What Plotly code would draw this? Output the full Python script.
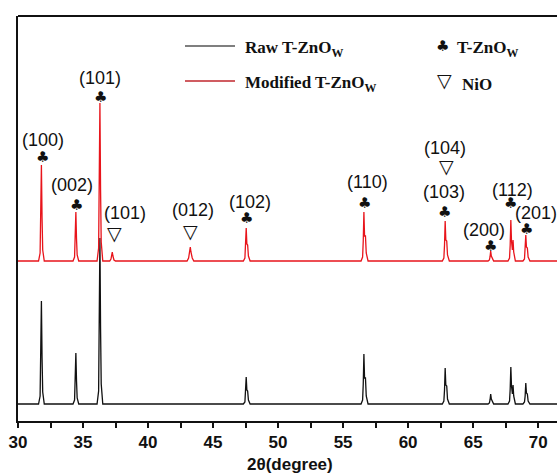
import plotly.graph_objects as go

# ---------------- data ----------------
raw_2theta = [30.0,
    31.58, 31.70, 31.75, 31.80, 31.85, 31.90, 32.02,
    34.23, 34.35, 34.40, 34.45, 34.50, 34.55, 34.67,
    36.08, 36.20, 36.25, 36.30, 36.35, 36.40, 36.52,
    47.33, 47.45, 47.50, 47.55, 47.60, 47.66, 47.72, 47.85,
    56.38, 56.50, 56.55, 56.60, 56.65, 56.72, 56.78, 56.92,
    62.63, 62.75, 62.80, 62.85, 62.90, 62.97, 63.03, 63.17,
    66.15, 66.25, 66.30, 66.35, 66.40, 66.48, 66.58,
    67.68, 67.80, 67.85, 67.90, 67.95, 68.02, 68.07, 68.12, 68.25,
    68.83, 68.95, 69.00, 69.05, 69.10, 69.17, 69.23, 69.37,
    72.0]
raw_intensity = [0,
    0, 8, 41, 103, 46, 12, 0,
    0, 4, 20, 51, 23, 6, 0,
    0, 13, 66, 166, 75, 20, 0,
    0, 2, 11, 27, 14, 13, 4, 0,
    0, 4, 20, 50, 26, 26, 8, 0,
    0, 3, 14, 36, 19, 18, 5, 0,
    0, 1, 4, 10, 5, 3, 0,
    0, 3, 15, 37, 18, 10, 19, 8, 0,
    0, 2, 8, 21, 11, 10, 3, 0,
    0]

mod_2theta = [30.0,
    31.58, 31.70, 31.75, 31.80, 31.85, 31.90, 32.02,
    34.23, 34.35, 34.40, 34.45, 34.50, 34.55, 34.67,
    36.08, 36.20, 36.25, 36.30, 36.35, 36.40, 36.52,
    37.05, 37.15, 37.20, 37.25, 37.30, 37.38, 37.50,
    43.00, 43.12, 43.20, 43.25, 43.30, 43.40, 43.52,
    47.33, 47.45, 47.50, 47.55, 47.60, 47.66, 47.72, 47.85,
    56.38, 56.50, 56.55, 56.60, 56.65, 56.72, 56.78, 56.92,
    62.63, 62.75, 62.80, 62.85, 62.90, 62.97, 63.03, 63.17,
    66.15, 66.25, 66.30, 66.35, 66.40, 66.48, 66.58,
    67.68, 67.80, 67.85, 67.90, 67.95, 68.02, 68.07, 68.12, 68.25,
    68.83, 68.95, 69.00, 69.05, 69.10, 69.17, 69.23, 69.37,
    72.0]
mod_intensity = [0,
    0, 8, 38, 96, 43, 11, 0,
    0, 4, 20, 49, 22, 6, 0,
    0, 13, 63, 158, 71, 19, 0,
    0, 2, 5, 9, 5, 1, 0,
    0, 3, 9, 14, 9, 3, 0,
    0, 3, 13, 33, 17, 16, 5, 0,
    0, 4, 20, 49, 25, 25, 8, 0,
    0, 3, 16, 40, 21, 20, 6, 0,
    0, 1, 4, 10, 5, 3, 0,
    0, 3, 16, 41, 20, 11, 21, 9, 0,
    0, 2, 10, 26, 14, 13, 4, 0,
    0]
mod_offset = 143

# peak labels: (text, x_pixel, y_pixel)
hkl_labels = [("(100)", 43, 140), ("(002)", 72, 185), ("(101)", 100, 78),
              ("(101)", 125, 213), ("(012)", 193, 210), ("(102)", 250, 202),
              ("(110)", 367, 182), ("(104)", 445, 148), ("(103)", 444, 192),
              ("(112)", 512, 190), ("(201)", 536, 213), ("(200)", 484, 230)]
club_marks = [(42, 157), (76, 205), (100, 97), (246, 218), (364, 203),
              (444, 212), (510, 203), (526, 229), (490, 246)]
nio_marks = [(114, 233), (190, 231), (446, 166)]

tick_vals = [30, 35, 40, 45, 50, 55, 60, 65, 70]

# ---------------- geometry helpers ----------------
W, H = 557, 476
L, T, B = 18, 16, 55
X0, X1 = 30.0, 71.45
Y0, Y1 = -17, 388
xs = (W - L) / (X1 - X0)
PH = H - T - B

def px2x(px):
    return X0 + (px - L) / xs

def py2y(py):
    return (H - B) - py + Y0

def py2paper(py):
    return ((H - B) - py) / PH

def px2paper(px):
    return (px - L) / (W - L)

fig = go.Figure()
fig.add_trace(go.Scatter(x=raw_2theta, y=raw_intensity, mode="lines",
                         line=dict(color="#111111", width=1.3), name="Raw T-ZnOw"))
fig.add_trace(go.Scatter(x=mod_2theta, y=[v + mod_offset for v in mod_intensity],
                         mode="lines", line=dict(color="#e8141b", width=1.3),
                         name="Modified T-ZnOw"))

club_font = dict(family="DejaVu Sans", size=15, color="#111")
tri_font = dict(family="DejaVu Sans", size=19, color="#111")

ann = []
for t, px, py in hkl_labels:
    ann.append(dict(x=px2x(px), y=py2y(py), text=t, showarrow=False,
                    font=dict(family="Liberation Sans", size=18, color="#111")))
for px, py in club_marks:
    ann.append(dict(x=px2x(px), y=py2y(py), text="♣", showarrow=False, font=club_font))
for px, py in nio_marks:
    ann.append(dict(x=px2x(px), y=py2y(py), text="▽", showarrow=False, font=tri_font))

# legend (manual)
serif = dict(family="Liberation Serif", size=17, color="#111", weight="bold")
ann += [
    dict(x=px2x(243), y=py2y(49), text="Raw T-ZnO<sub>W</sub>", xanchor="left",
         showarrow=False, font=serif),
    dict(x=px2x(243), y=py2y(84), text="Modified T-ZnO<sub>W</sub>", xanchor="left",
         showarrow=False, font=serif),
    dict(x=px2x(442), y=py2y(46), text="♣", showarrow=False, font=club_font),
    dict(x=px2x(455), y=py2y(49), text="T-ZnO<sub>W</sub>", xanchor="left",
         showarrow=False, font=serif),
    dict(x=px2x(444), y=py2y(80), text="▽", showarrow=False, font=tri_font),
    dict(x=px2x(460), y=py2y(84), text="NiO", xanchor="left",
         showarrow=False, font=serif),
    dict(x=px2paper(290), y=py2paper(464), xref="paper", yref="paper",
         xanchor="center", yanchor="middle",
         text="2θ(degree)", showarrow=False,
         font=dict(family="Liberation Sans", size=17, color="#111", weight="bold")),
]

shapes = [
    dict(type="line", xref="paper", yref="paper", x0=0, x1=1, y0=1, y1=1,
         line=dict(color="#111", width=2)),
    dict(type="line", xref="x", yref="y", x0=px2x(185), x1=px2x(235),
         y0=py2y(46), y1=py2y(46), line=dict(color="#555", width=1.5)),
    dict(type="line", xref="x", yref="y", x0=px2x(185), x1=px2x(235),
         y0=py2y(81), y1=py2y(81), line=dict(color="#c0262c", width=1.5)),
]

fig.update_layout(
    width=W, height=H,
    margin=dict(l=L, r=0, t=T, b=B),
    paper_bgcolor="white", plot_bgcolor="white",
    showlegend=False,
    annotations=ann, shapes=shapes,
    xaxis=dict(range=[X0, X1], showgrid=False, zeroline=False,
               showline=True, linecolor="#111", linewidth=2,
               ticks="outside", ticklen=5, tickwidth=1.5, tickcolor="#111",
               tickvals=tick_vals, ticktext=[str(v) for v in tick_vals],
               tickfont=dict(family="Liberation Sans", size=17, color="#111", weight="bold"),
               minor=dict(tickvals=[v + 2.5 for v in tick_vals], ticks="outside",
                          ticklen=5, tickwidth=1.5, tickcolor="#111")),
    yaxis=dict(range=[Y0, Y1], showgrid=False, zeroline=False,
               showline=True, linecolor="#111", linewidth=2,
               showticklabels=False, ticks=""),
)

fig.write_html("out.html")
